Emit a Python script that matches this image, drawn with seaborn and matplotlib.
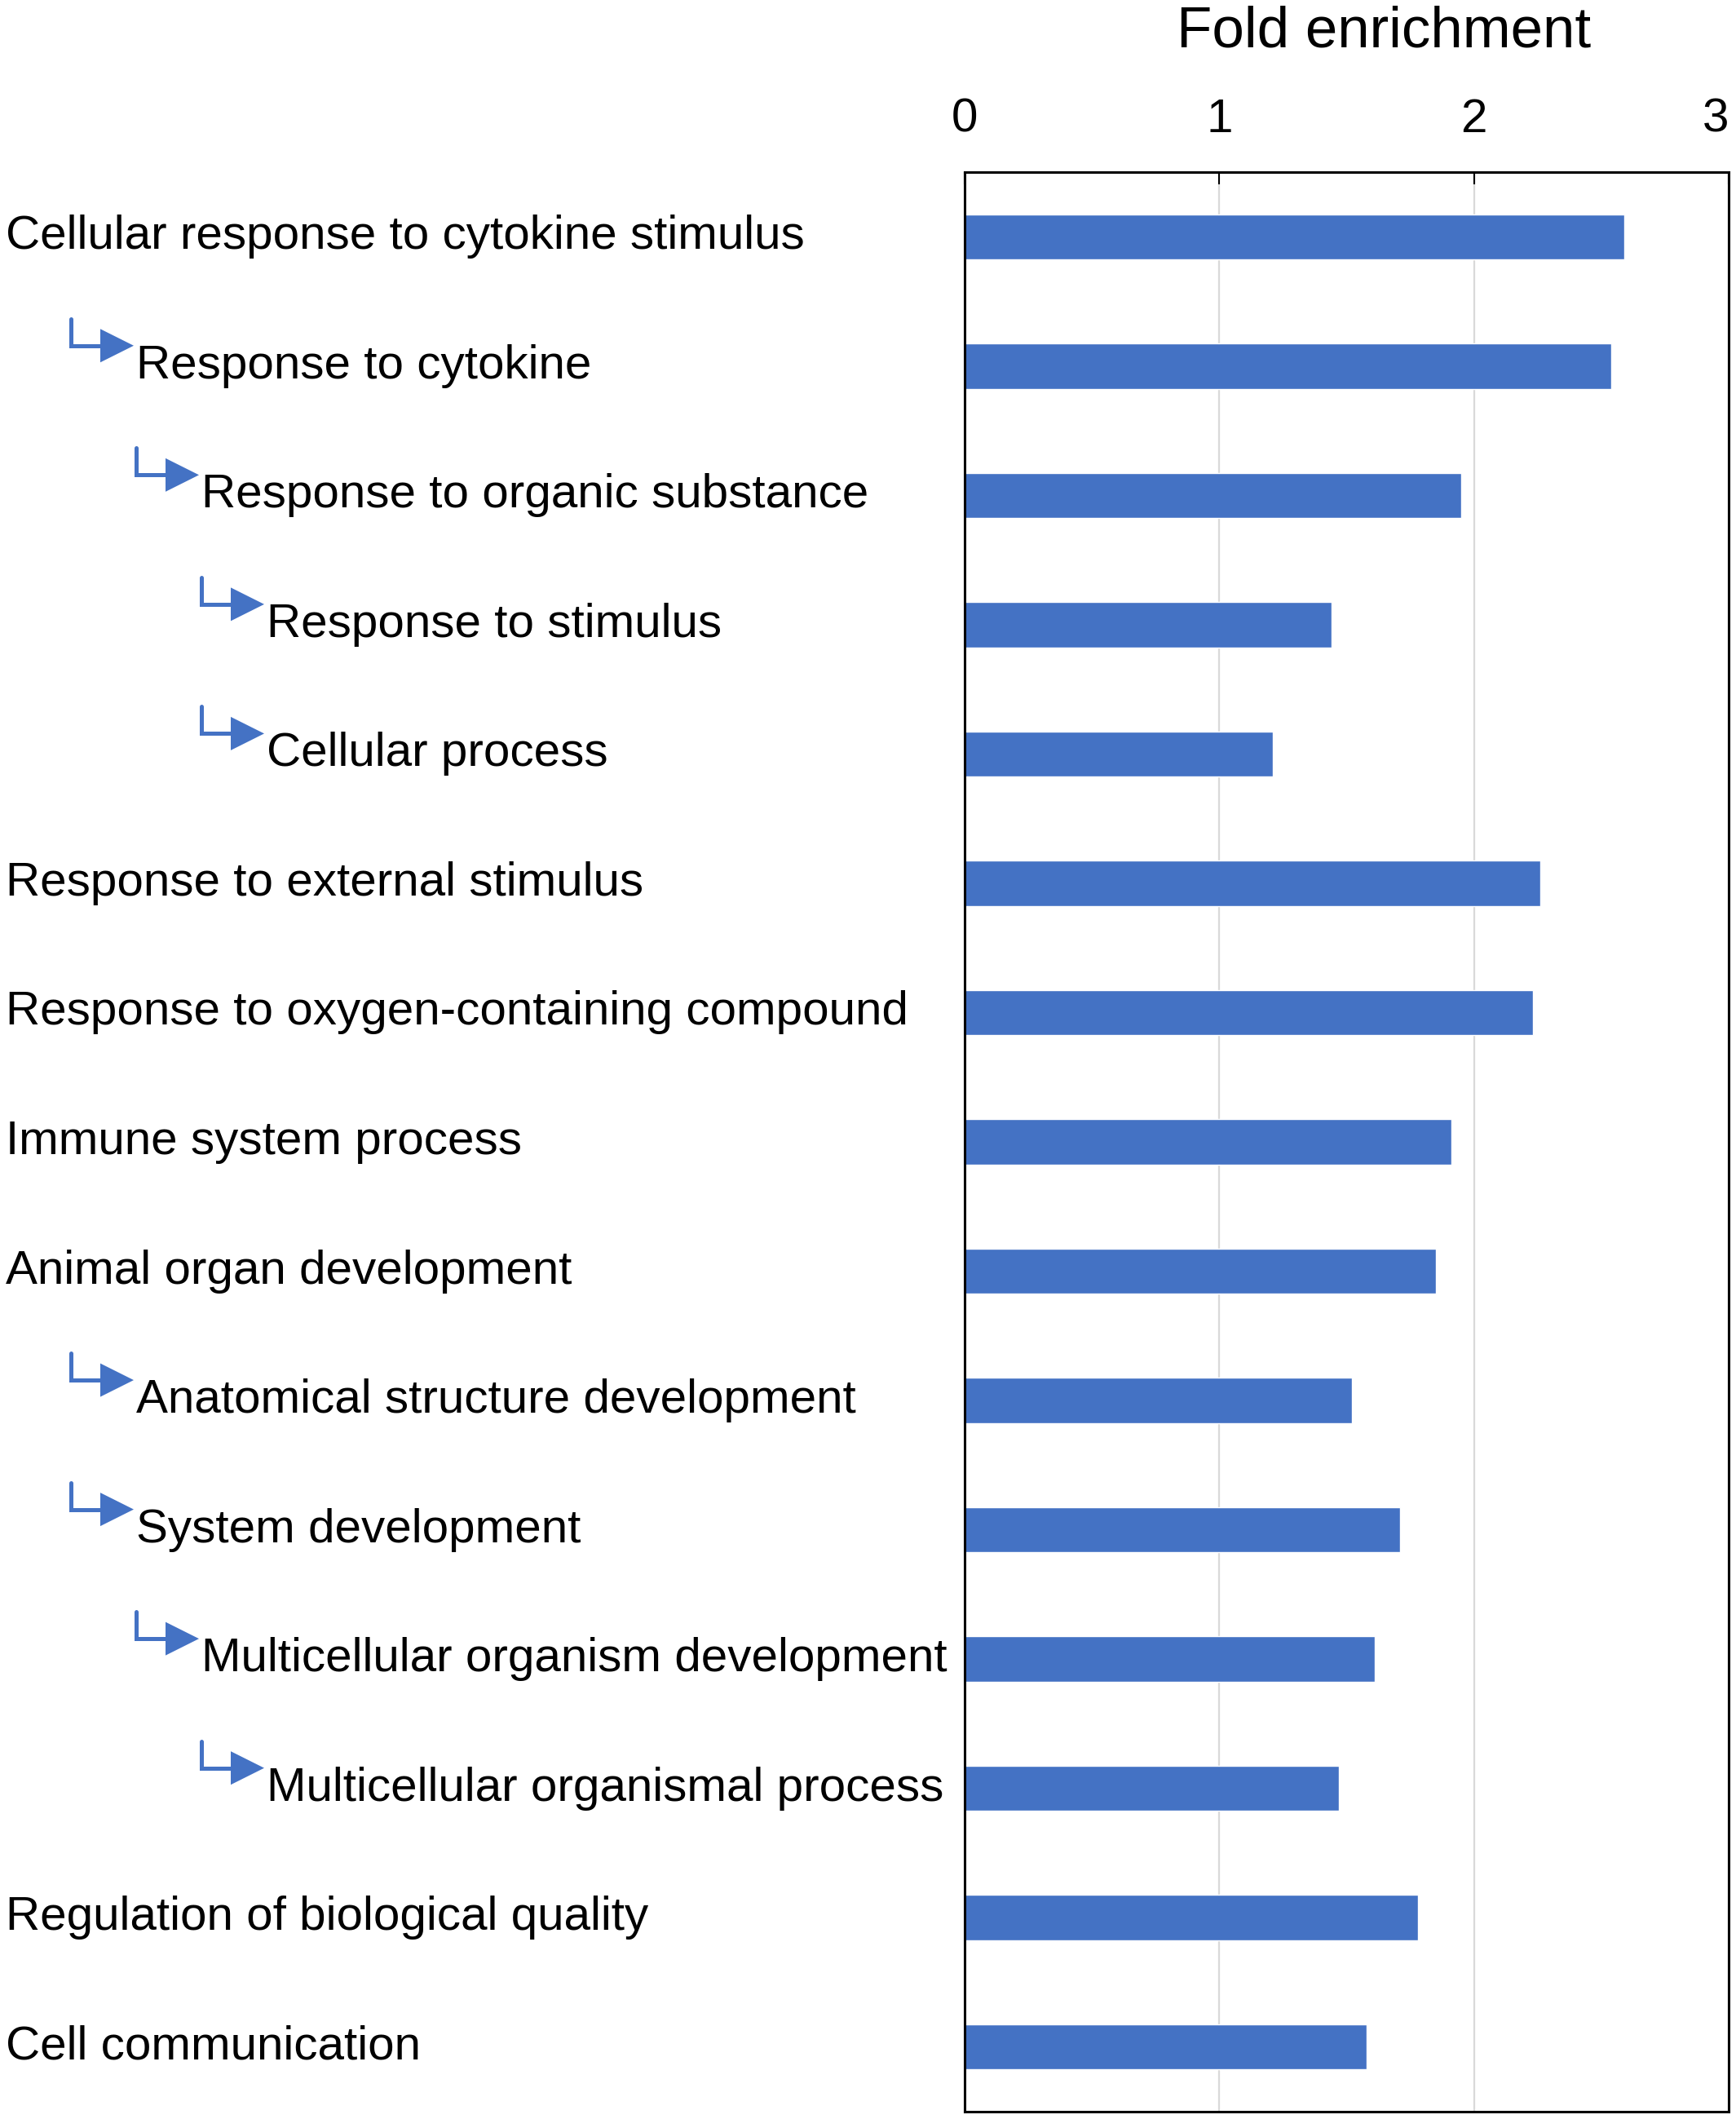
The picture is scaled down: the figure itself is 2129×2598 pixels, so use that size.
import numpy as np
import pandas as pd
import matplotlib
matplotlib.use('Agg')
import matplotlib.pyplot as plt
import matplotlib.transforms as mtransforms
from matplotlib.patches import Polygon
import seaborn as sns

# GO terms, hierarchy level (0 = top term, arrows for children) and fold enrichment
terms = ['Cellular response to cytokine stimulus', 'Response to cytokine',
         'Response to organic substance', 'Response to stimulus', 'Cellular process',
         'Response to external stimulus', 'Response to oxygen-containing compound',
         'Immune system process', 'Animal organ development',
         'Anatomical structure development', 'System development',
         'Multicellular organism development', 'Multicellular organismal process',
         'Regulation of biological quality', 'Cell communication']
levels = [0, 1, 2, 3, 3, 0, 0, 0, 0, 1, 1, 2, 3, 0, 0]
fold = [2.59, 2.54, 1.95, 1.44, 1.21, 2.26, 2.23, 1.91, 1.85, 1.52, 1.71, 1.61, 1.47, 1.78, 1.58]
xticks = [0, 1, 2, 3]

df = pd.DataFrame({'term': terms, 'fold': fold})

sns.set_style('white')
plt.rcParams['font.family'] = ['Liberation Sans', 'DejaVu Sans']
plt.rcParams['text.color'] = 'black'
plt.rcParams['xtick.color'] = 'black'
plt.rcParams['xtick.labelcolor'] = 'black'

blue = '#4472C4'
W, H = 2129, 2598
fig = plt.figure(figsize=(W / 100, H / 100), dpi=100)
ax = fig.add_axes([1183 / W, 1 - 2589 / H, (2120 - 1183) / W, (2589 - 211) / H])

sns.barplot(data=df, x='fold', y='term', orient='h', color=blue, width=0.35,
            saturation=1, ax=ax)

n = len(terms)
ax.set_ylim(n - 0.5, -0.5)
ax.set_xlim(0, 3)
ax.set_xticks(xticks)
ax.xaxis.tick_top()
ax.tick_params(axis='x', direction='in', length=11, width=1.5, color='black',
               labelsize=42, pad=27, labelcolor='black')
ax.get_xticklabels()[-1].set_horizontalalignment('right')
ax.tick_params(axis='y', left=False, labelleft=False)
ax.set_xlabel('')
ax.set_ylabel('')
ax.grid(axis='x', color='#d9d9d9', linewidth=1.6)
ax.set_axisbelow(True)
for s in ax.spines.values():
    s.set_color('black')
    s.set_linewidth(2.2)

# labels with indentation and arrows on the left
trans = mtransforms.blended_transform_factory(fig.transFigure, ax.transData)
row_px = (2589 - 211) / n
step = 80
for i, (t, lv) in enumerate(zip(terms, levels)):
    if lv == 0:
        tx = 7
    else:
        tx = 7 + step * (lv + 1)
    ax.text(tx / W, i, t, transform=trans, fontsize=42, ha='left', va='center',
            color='black', clip_on=False)
    if lv > 0:
        vx = 7 + step * lv
        ay = i - 25 / row_px
        top = i - 58 / row_px
        tip = tx - 3
        base = tip - 41
        ax.plot([vx / W, vx / W, base / W], [top, ay, ay], transform=trans,
                color=blue, lw=3.6, clip_on=False, solid_joinstyle='miter')
        tri = Polygon([[base / W, ay - 20.5 / row_px], [base / W, ay + 20.5 / row_px],
                       [tip / W, ay]], closed=True, transform=trans,
                      facecolor=blue, edgecolor='none', clip_on=False)
        ax.add_patch(tri)

fig.text(1697 / W, 1 - 57 / H, 'Fold enrichment', fontsize=51, ha='center',
         va='baseline', color='black')

fig.savefig('out.png', dpi=100, facecolor='white')
